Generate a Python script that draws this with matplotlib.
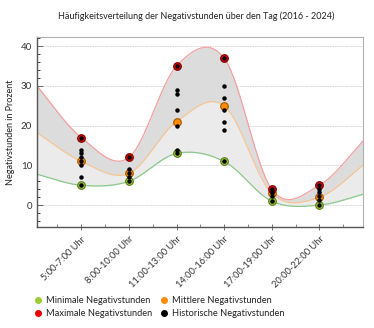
"""Häufigkeitsverteilung der Negativstunden über den Tag (2016 - 2024)."""
import numpy as np
import matplotlib
matplotlib.use('Agg')
import matplotlib.pyplot as plt
from matplotlib.lines import Line2D
from matplotlib.ticker import MultipleLocator, FixedLocator

# --- data -------------------------------------------------------------------
slots = ['5:00-7:00 Uhr', '8:00-10:00 Uhr', '11:00-13:00 Uhr',
         '14:00-16:00 Uhr', '17:00-19:00 Uhr', '20:00-22:00 Uhr']
min_vals = [5, 6, 13, 11, 1, 0]
mean_vals = [11, 8, 21, 25, 3, 2]
max_vals = [17, 12, 35, 37, 4, 5]
# neighbouring time slots just outside the visible range (before / after)
min_edge = [8, 3]
mean_edge = [18.8, 10.8]
max_edge = [31, 17.2]
hist_vals = [
    [17, 14, 13, 12, 11, 10, 7, 5],
    [12, 9, 8, 7, 6],
    [35, 29, 28, 24, 20, 14, 13],
    [37, 30, 27, 24, 21, 19, 11],
    [4, 3.6, 3, 2.2, 1],
    [5, 4, 3.2, 2.2, 1.3, 0],
]

title = 'Häufigkeitsverteilung der Negativstunden über den Tag (2016 - 2024)'
ylabel = 'Negativstunden in Prozent'

FONT = ['Lato', 'DejaVu Sans']


def catmull_rom(vals, edge, n_per=80):
    """Catmull-Rom curve through the slot values plus the two edge slots."""
    y = np.array([edge[0]] + list(vals) + [edge[1]], dtype=float)
    x = np.arange(-1, len(y) - 1)
    m = np.empty_like(y)
    m[1:-1] = (y[2:] - y[:-2]) / 2
    m[0] = y[1] - y[0]
    m[-1] = y[-1] - y[-2]
    xs, ys = [], []
    t = np.linspace(0, 1, n_per)
    h00 = 2 * t**3 - 3 * t**2 + 1
    h10 = t**3 - 2 * t**2 + t
    h01 = -2 * t**3 + 3 * t**2
    h11 = t**3 - t**2
    for i in range(len(y) - 1):
        xs.append(x[i] + t)
        ys.append(h00 * y[i] + h10 * m[i] + h01 * y[i + 1] + h11 * m[i + 1])
    return np.concatenate(xs), np.concatenate(ys)


def main():
    plt.rcParams['font.family'] = FONT
    fig = plt.figure(figsize=(3.74, 3.28), dpi=100)
    ax = fig.add_axes([0.099, 0.308, 0.872, 0.579])

    x = np.arange(len(slots))
    xs, s_min = catmull_rom(min_vals, min_edge)
    _, s_mean = catmull_rom(mean_vals, mean_edge)
    _, s_max = catmull_rom(max_vals, max_edge)

    # bands and smooth lines
    ax.fill_between(xs, s_mean, s_max, color='#dcdcdc', lw=0, zorder=1)
    ax.fill_between(xs, s_min, s_mean, color='#ebebeb', lw=0, zorder=1)
    ax.plot(xs, s_max, color='#f4a0a0', lw=0.9, zorder=2)
    ax.plot(xs, s_mean, color='#f5c595', lw=0.9, zorder=2)
    ax.plot(xs, s_min, color='#8cc88c', lw=0.9, zorder=2)

    # markers
    ax.plot(x, min_vals, 'o', ms=5.5, mfc='#9acd32', mec='#5d7a1e', mew=0.8, zorder=3)
    ax.plot(x, mean_vals, 'o', ms=5.5, mfc='#ff8c00', mec='#a05a00', mew=0.8, zorder=3)
    ax.plot(x, max_vals, 'o', ms=5.5, mfc='#e80000', mec='#7a0000', mew=0.8, zorder=3)
    for i, vals in enumerate(hist_vals):
        ax.plot([i] * len(vals), vals, 'o', ms=2.2, color='black', zorder=4)

    ax.set_xlim(-0.93, 5.92)
    ax.set_ylim(-5.5, 42.3)
    ax.set_xticks(x)
    ax.set_xticklabels(slots, rotation=45, ha='right', va='top',
                       rotation_mode='anchor', fontsize=6.7, color='#333333')
    ax.xaxis.set_minor_locator(FixedLocator(np.arange(-0.5, 6, 1)))
    ax.set_yticks([0, 10, 20, 30, 40])
    ax.yaxis.set_minor_locator(MultipleLocator(2))
    ax.tick_params(axis='y', labelsize=7, colors='#555555', labelcolor='#333333')
    ax.tick_params(axis='y', which='major', direction='in', length=4, width=0.6)
    ax.tick_params(axis='y', which='minor', direction='in', length=2, width=0.5)
    ax.tick_params(axis='x', which='major', direction='inout', length=5, width=0.6,
                   colors='#555555', labelcolor='#333333', pad=3)
    ax.tick_params(axis='x', which='minor', direction='in', length=2.5, width=0.5,
                   colors='#555555')

    ax.grid(axis='y', which='major', color='#d4d4d4', lw=0.6, ls=(0, (2, 1)))
    ax.set_axisbelow(True)
    for side in ['left', 'bottom']:
        ax.spines[side].set_color('#555555')
        ax.spines[side].set_linewidth(1.0)
    for side in ['top', 'right']:
        ax.spines[side].set_color('#b0b0b0')
        ax.spines[side].set_linewidth(0.8)

    ax.set_ylabel(ylabel, fontsize=6.5, color='#222222', labelpad=4)
    fig.suptitle(title, fontsize=6.5, color='#222222', x=0.525, y=0.965)

    handles = [
        Line2D([], [], ls='', marker='o', ms=4, color='#9acd32'),
        Line2D([], [], ls='', marker='o', ms=4, color='#ee0000'),
        Line2D([], [], ls='', marker='o', ms=4, color='#ff8c00'),
        Line2D([], [], ls='', marker='o', ms=4, color='black'),
    ]
    labels = ['Minimale Negativstunden', 'Maximale Negativstunden',
              'Mittlere Negativstunden', 'Historische Negativstunden']
    fig.legend(handles, labels, ncol=2, loc='upper left',
               bbox_to_anchor=(0.075, 0.118), frameon=False, fontsize=6.7,
               handlelength=0.8, handletextpad=0.4, columnspacing=0.9,
               labelspacing=0.5, borderpad=0.2, labelcolor='#222222')

    fig.savefig('out.png', dpi=100)
    plt.close(fig)


if __name__ == '__main__':
    main()
